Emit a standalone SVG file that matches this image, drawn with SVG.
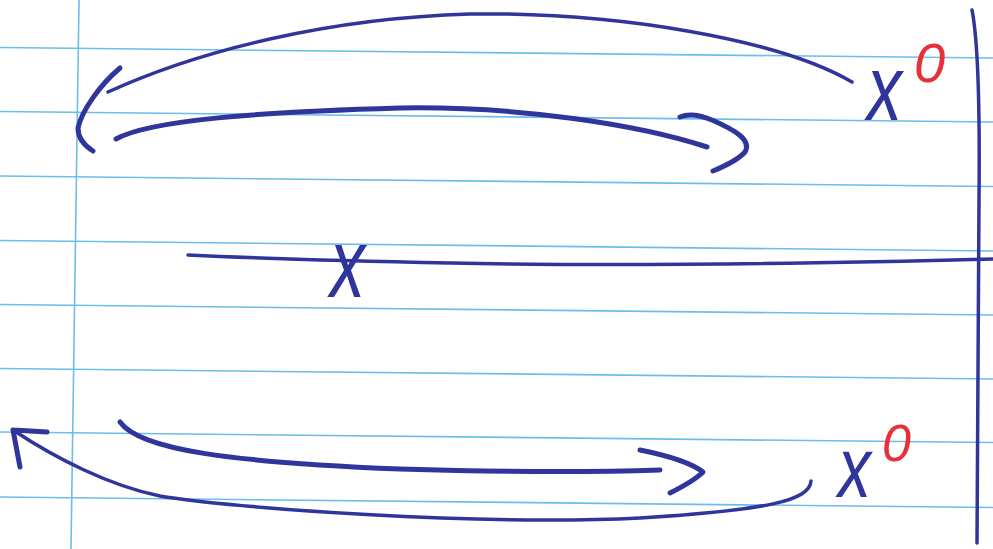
<svg xmlns="http://www.w3.org/2000/svg" width="993" height="549" viewBox="0 0 993 549">
<style>
.rule{stroke:#6cbdea;stroke-width:1.6;fill:none}
.ink{stroke:#30359c;fill:none;stroke-linecap:round;stroke-linejoin:round;stroke-width:3.5}
.thick{stroke-width:5}
.lx{font-family:"Liberation Sans",Arial,sans-serif;font-style:italic;fill:#30359c}
.l0{font-family:"Liberation Sans",Arial,sans-serif;font-style:italic;fill:#e8303a}
</style>
<rect width="993" height="549" fill="#ffffff"/>
<g id="paper">
<line class="rule" x1="0" y1="47.5" x2="993" y2="58"/>
<line class="rule" x1="0" y1="111.5" x2="993" y2="122"/>
<line class="rule" x1="0" y1="176" x2="993" y2="186.5"/>
<line class="rule" x1="0" y1="240.5" x2="993" y2="251"/>
<line class="rule" x1="0" y1="304.5" x2="993" y2="315"/>
<line class="rule" x1="0" y1="368.5" x2="993" y2="379"/>
<line class="rule" x1="0" y1="432" x2="993" y2="442.5"/>
<line class="rule" x1="0" y1="497" x2="993" y2="507.5"/>
<line class="rule" x1="79" y1="0" x2="71" y2="549"/>
</g>
<g id="connectors">
<path class="ink" d="M972,10 C978,40 980,100 979,200 L977,543"/>
<path class="ink" d="M108,92 C200,50 330,18 470,14 C620,12 780,40 852,82"/>
<path class="ink thick" d="M120,68 C100,85 82,110 78,128 C78,138 85,146 93,151"/>
<path class="ink thick" d="M116,139 C150,120 260,112 400,108 C520,106 640,125 707,147"/>
<path class="ink thick" d="M680,117 C690,113 700,115 712,120 C735,130 752,140 745,152 C738,160 725,166 713,171"/>
<path class="ink" d="M188,255 C230,257 300,260 450,263 C600,266 800,264 993,259"/>
<path class="ink thick" d="M120,422 C140,450 230,462 400,469 C500,472 600,472 660,470"/>
<path class="ink thick" d="M640,450 C665,455 690,462 703,472 C695,480 682,487 670,493"/>
<path class="ink" d="M811,481 C810,500 770,510 640,518 C480,526 230,508 160,496 C110,486 55,458 13,430"/>
<path class="ink thick" d="M13,430 L47,432 M13,430 L20,467"/>
</g>
<g id="label-top">
<text class="lx" x="867" y="120" font-size="92" textLength="35" lengthAdjust="spacingAndGlyphs">x</text>
<text class="l0" x="914" y="82" font-size="56">0</text>
</g>
<g id="label-mid">
<text class="lx" x="330" y="297" font-size="98" textLength="35" lengthAdjust="spacingAndGlyphs">x</text>
</g>
<g id="label-bottom">
<text class="lx" x="838" y="497" font-size="86" textLength="33" lengthAdjust="spacingAndGlyphs">x</text>
<text class="l0" x="882" y="461" font-size="52">0</text>
</g>
</svg>
